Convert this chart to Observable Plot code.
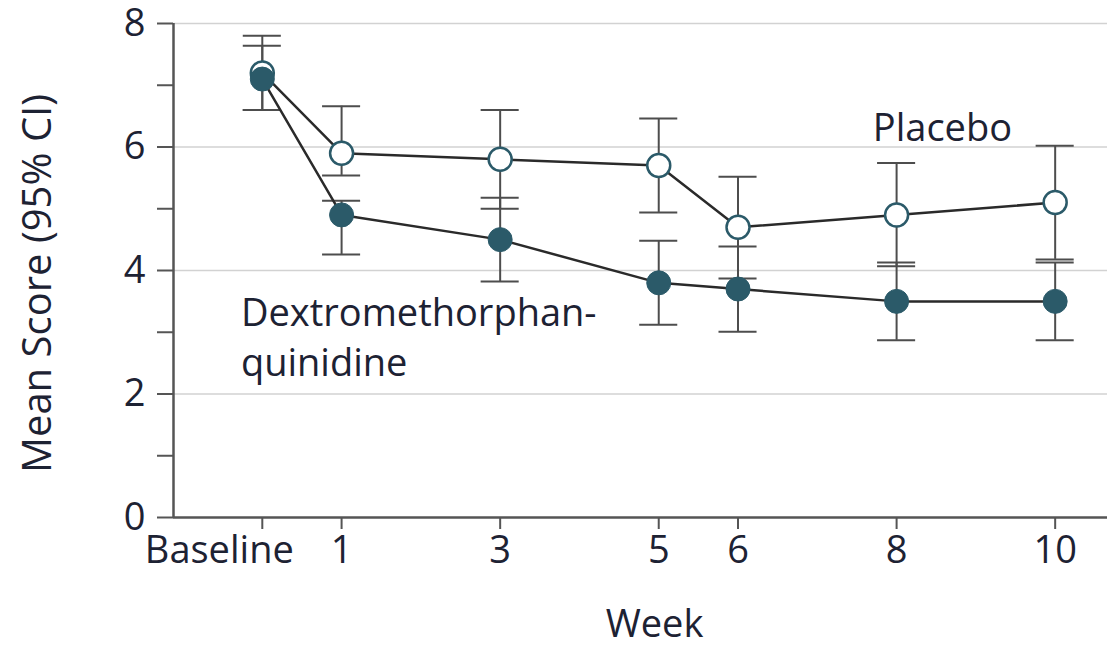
<!DOCTYPE html>
<html>
<head>
<meta charset="utf-8">
<script src="https://cdn.jsdelivr.net/npm/d3@7"></script>
<script src="https://cdn.jsdelivr.net/npm/@observablehq/plot@0.6"></script>
<style>
  html, body { margin: 0; padding: 0; background: #fff; }
  #chart { width: 1117px; height: 646px; overflow: hidden; }
</style>
</head>
<body>
<div id="chart"></div>
<script>
// ---- data ----
const weeks = [0, 1, 3, 5, 6, 8, 10];
const weekLabels = ["Baseline", "1", "3", "5", "6", "8", "10"];
const placeboMean = [7.2, 5.9, 5.8, 5.7, 4.7, 4.9, 5.1];
const placeboLow  = [6.6, 5.54, 5.0, 4.94, 3.87, 4.07, 4.18];
const placeboHigh = [7.8, 6.66, 6.6, 6.46, 5.52, 5.74, 6.02];
const dmqMean = [7.1, 4.9, 4.5, 3.8, 3.7, 3.5, 3.5];
const dmqLow  = [6.6, 4.26, 3.82, 3.12, 3.01, 2.87, 2.87];
const dmqHigh = [7.64, 5.13, 5.18, 4.48, 4.39, 4.13, 4.13];
const yTicks = [0, 1, 2, 3, 4, 5, 6, 7, 8];
const yGrid = [2, 4, 6, 8];
const seriesNames = ["Placebo", "Dextromethorphan-\nquinidine"];
const xTitle = "Week";
const yTitle = "Mean Score (95% CI)";

// ---- build tables ----
const placebo = weeks.map((w, i) => ({week: w, mean: placeboMean[i], low: placeboLow[i], high: placeboHigh[i]}));
const dmq = weeks.map((w, i) => ({week: w, mean: dmqMean[i], low: dmqLow[i], high: dmqHigh[i]}));

const teal = "#2b5a69";
const lineColor = "#2a2a2a";
const barColor = "#4d4d4d";
const axisColor = "#555555";
const textColor = "#1d2233";
const capHalf = 0.24;
const xDomain = [-1.12, 10.66];

function errorBars(data) {
  return [
    Plot.ruleX(data, {x: "week", y1: "low", y2: "high", stroke: barColor, strokeWidth: 2}),
    Plot.ruleY(data, {y: "low", x1: d => d.week - capHalf, x2: d => d.week + capHalf, stroke: barColor, strokeWidth: 2}),
    Plot.ruleY(data, {y: "high", x1: d => d.week - capHalf, x2: d => d.week + capHalf, stroke: barColor, strokeWidth: 2})
  ];
}

const chart = Plot.plot({
  width: 1117,
  height: 646,
  marginLeft: 173,
  marginRight: 10,
  marginTop: 23,
  marginBottom: 129,
  style: {fontFamily: "'Open Sans', Lato, sans-serif", fontSize: "38px", fontWeight: 500, color: textColor, background: "#fff"},
  x: {domain: xDomain},
  y: {domain: [0, 8]},
  marks: [
    Plot.ruleY(yGrid, {stroke: "#d2d2d2", strokeWidth: 1.6}),
    Plot.axisY({ticks: yTicks, tickSize: 16, tickPadding: 12, tickFormat: d => d % 2 ? "" : d,
      stroke: axisColor, strokeWidth: 2, fill: textColor, label: null}),
    Plot.axisX({ticks: weeks, tickSize: 12, tickPadding: 7, tickFormat: d => d === 0 ? "" : weekLabels[weeks.indexOf(d)],
      stroke: axisColor, strokeWidth: 2, fill: textColor, label: null}),
    Plot.text([weekLabels[0]], {x: weeks[0], frameAnchor: "bottom", dy: 19, dx: -43, lineAnchor: "top", textAnchor: "middle", fill: textColor}),
    Plot.ruleY([0], {stroke: axisColor, strokeWidth: 2.5}),
    Plot.ruleX([xDomain[0]], {y1: 0, y2: 8, stroke: axisColor, strokeWidth: 2.5}),
    ...errorBars(dmq),
    ...errorBars(placebo),
    Plot.line(dmq, {x: "week", y: "mean", stroke: lineColor, strokeWidth: 2.5}),
    Plot.line(placebo, {x: "week", y: "mean", stroke: lineColor, strokeWidth: 2.5}),
    Plot.dot(placebo, {x: "week", y: "mean", r: 11.5, fill: "#fff", stroke: teal, strokeWidth: 2.5}),
    Plot.dot(dmq, {x: "week", y: "mean", r: 12, fill: teal, stroke: teal, strokeWidth: 1}),
    Plot.text([seriesNames[0]], {x: 7.7, y: 6.3, textAnchor: "start", lineAnchor: "middle", fill: textColor}),
    Plot.text([seriesNames[1]], {x: -0.27, y: 2.95, textAnchor: "start", lineAnchor: "middle", lineHeight: 1.3, fill: textColor}),
    Plot.text([xTitle], {frameAnchor: "bottom", dy: 107, dx: 14, textAnchor: "middle", lineAnchor: "middle", fill: textColor}),
    Plot.text([yTitle], {frameAnchor: "left", dx: -135, dy: 13, rotate: -90, textAnchor: "middle", lineAnchor: "middle", fontSize: 40, fill: textColor})
  ]
});
document.getElementById("chart").appendChild(chart);
</script>
</body>
</html>
